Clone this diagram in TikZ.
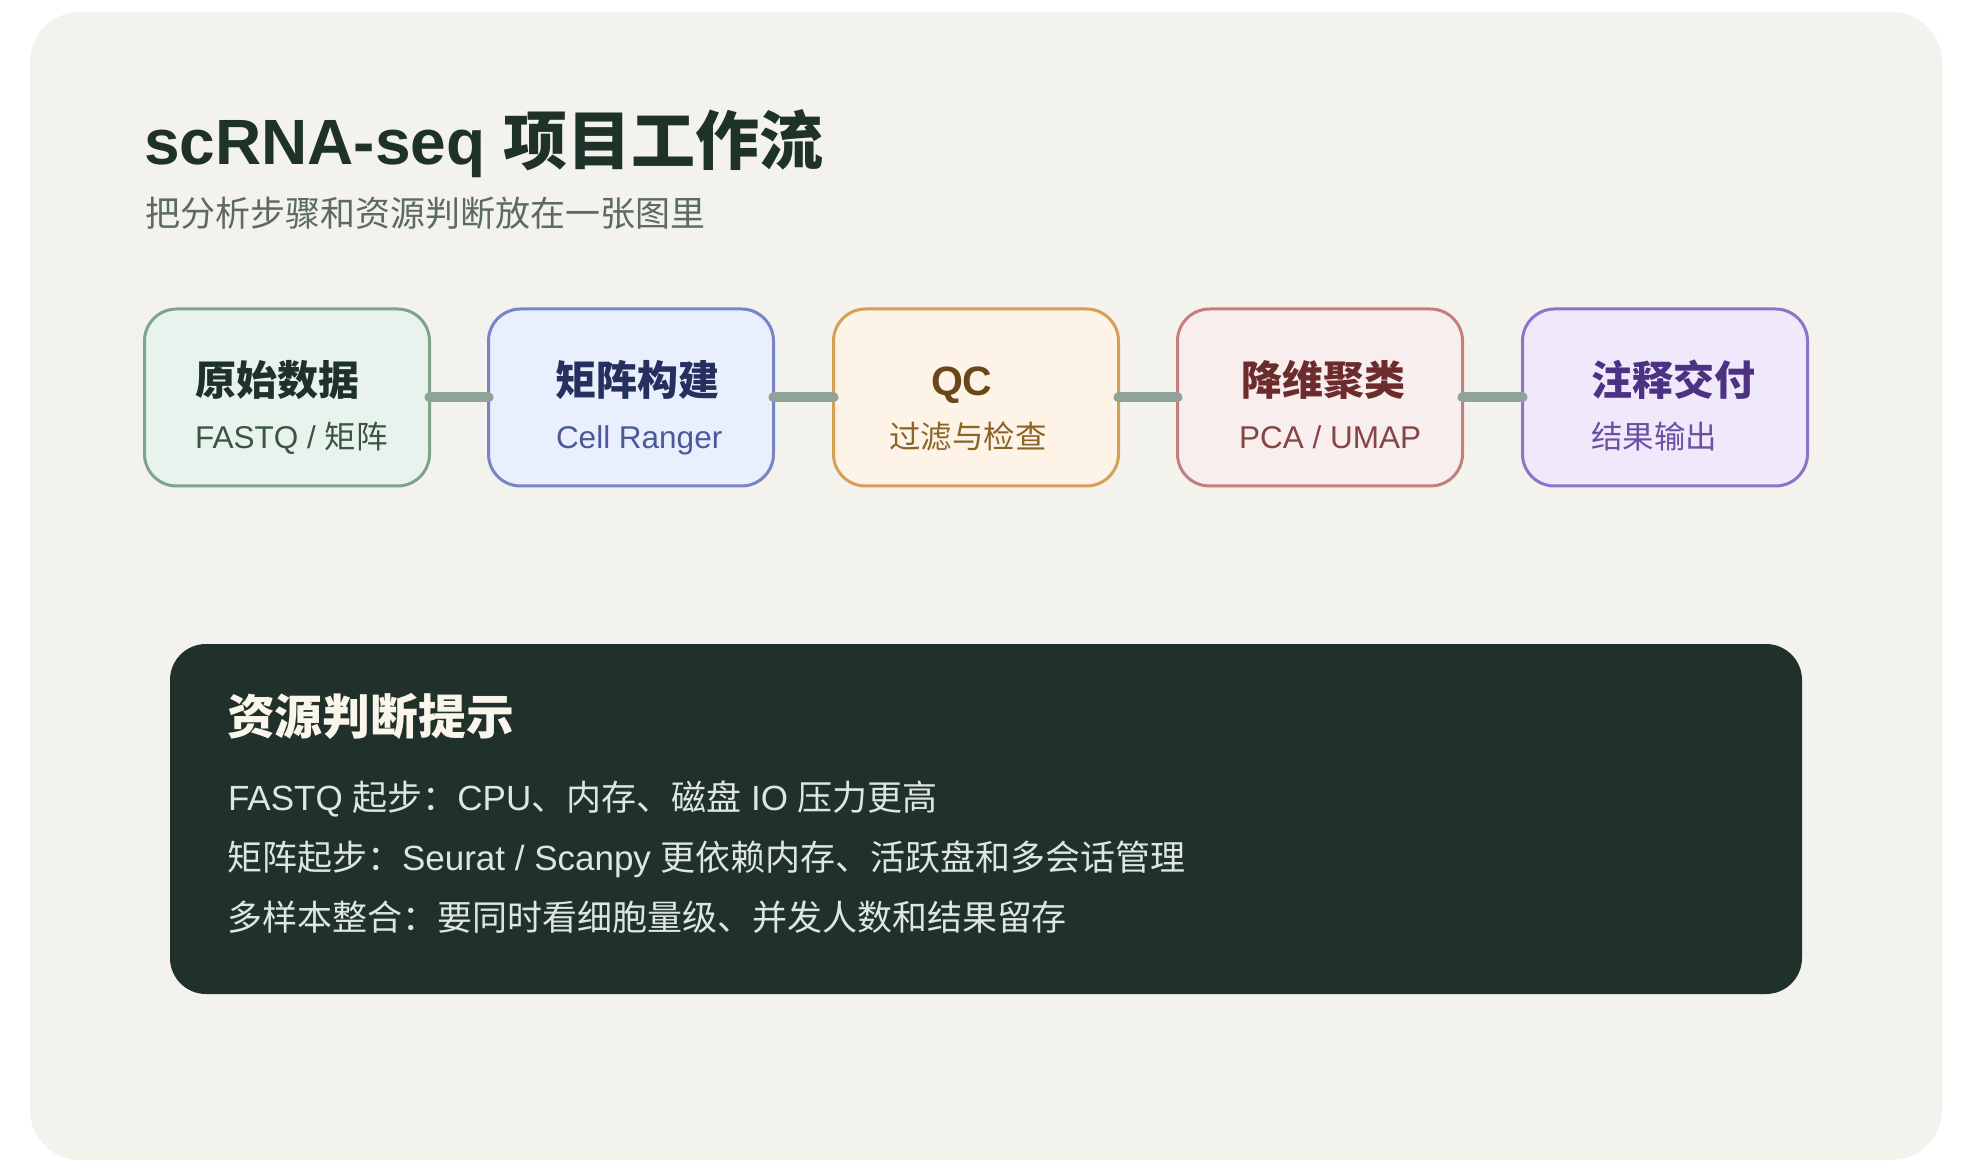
\documentclass[tikz,border=0pt]{standalone}
\usepackage{fontspec}
\setmainfont{Liberation Sans}
\newfontfamily\cjk{Noto Sans CJK SC}
\definecolor{cardbg}{HTML}{F4F2ED}
\definecolor{ink}{HTML}{1F322A}
\definecolor{subc}{HTML}{5B6B62}
\definecolor{panelbg}{HTML}{20312B}
\definecolor{panelhead}{HTML}{FBF6EC}
\definecolor{panelline}{HTML}{DDE6E0}
\definecolor{conncol}{HTML}{8FA398}
\definecolor{bAf}{HTML}{E9F3ED}\definecolor{bAd}{HTML}{7FA38B}\definecolor{bAt}{HTML}{1F3229}\definecolor{bAs}{HTML}{3B5446}
\definecolor{bBf}{HTML}{E9EFFD}\definecolor{bBd}{HTML}{7585C8}\definecolor{bBt}{HTML}{25305F}\definecolor{bBs}{HTML}{4A5A98}
\definecolor{bCf}{HTML}{FDF3E7}\definecolor{bCd}{HTML}{D59F56}\definecolor{bCt}{HTML}{6A4618}\definecolor{bCs}{HTML}{8C6428}
\definecolor{bDf}{HTML}{F8EEEE}\definecolor{bDd}{HTML}{C47E7E}\definecolor{bDt}{HTML}{6C2C2C}\definecolor{bDs}{HTML}{864444}
\definecolor{bEf}{HTML}{F0E8FB}\definecolor{bEd}{HTML}{8D74C8}\definecolor{bEt}{HTML}{4B3282}\definecolor{bEs}{HTML}{6B50A6}
\begin{document}
\begin{tikzpicture}[x=0.5pt,y=-0.5pt,
  every node/.style={inner sep=0pt,outer sep=0pt},
  stagebox/.style={draw,rounded corners=16pt,line width=1.5pt,minimum width=142.5pt,minimum height=88.5pt},
  ttl/.style={anchor=base west,font=\fontsize{20.5}{24}\selectfont\bfseries},
  subt/.style={anchor=base west,font=\fontsize{15.75}{19}\selectfont},
  conn/.style={draw=conncol,line width=5pt,line cap=round},
  pline/.style={anchor=base west,text=panelline,font=\fontsize{17.5}{21}\selectfont}]
\useasboundingbox (0,0) rectangle (1976,1176);
\fill[white] (0,0) rectangle (1976,1176);
\fill[cardbg,rounded corners=25pt] (30,12) rectangle (1942,1160);
% heading
\node[anchor=base west,text=ink,font=\fontsize{32}{38}\selectfont\bfseries] (title) at (144,165) {scRNA-seq {\cjk 项目工作流}};
\node[anchor=base west,text=subc,font=\fontsize{17.5}{21}\selectfont] (subtitle) at (145,227) {\cjk 把分析步骤和资源判断放在一张图里};
% stages
\node[stagebox,draw=bAd,fill=bAf] (b1) at (287,397.5) {};
\node[stagebox,draw=bBd,fill=bBf] (b2) at (631,397.5) {};
\node[stagebox,draw=bCd,fill=bCf] (b3) at (976,397.5) {};
\node[stagebox,draw=bDd,fill=bDf] (b4) at (1320,397.5) {};
\node[stagebox,draw=bEd,fill=bEf] (b5) at (1665,397.5) {};
\draw[conn] (b1.east) -- (b2.west);
\draw[conn] (b2.east) -- (b3.west);
\draw[conn] (b3.east) -- (b4.west);
\draw[conn] (b4.east) -- (b5.west);
\node[ttl,text=bAt] (t1) at (195,396) {\cjk 原始数据};
\node[subt,text=bAs] (s1) at (195,449) {FASTQ / {\cjk 矩阵}};
\node[ttl,text=bBt] (t2) at (555,396) {\cjk 矩阵构建};
\node[subt,text=bBs] (s2) at (556,449) {Cell Ranger};
\node[ttl,text=bCt] (t3) at (931,396) {QC};
\node[subt,text=bCs] (s3) at (889,449) {\cjk 过滤与检查};
\node[ttl,text=bDt] (t4) at (1241,396) {\cjk 降维聚类};
\node[subt,text=bDs] (s4) at (1239,449) {PCA / UMAP};
\node[ttl,text=bEt] (t5) at (1591,396) {\cjk 注释交付};
\node[subt,text=bEs] (s5) at (1591,449) {\cjk 结果输出};
% panel
\node[fill=panelbg,rounded corners=18pt,minimum width=816pt,minimum height=175pt] (panel) at (986,819) {};
\node[anchor=base west,text=panelhead,font=\fontsize{23.9}{28}\selectfont\bfseries] (p0) at (227,734) {\cjk 资源判断提示};
\node[pline] (p1) at (228,810) {FASTQ {\cjk 起步：}CPU{\cjk 、内存、磁盘} IO {\cjk 压力更高}};
\node[pline] (p2) at (227,870) {{\cjk 矩阵起步：}Seurat / Scanpy {\cjk 更依赖内存、活跃盘和多会话管理}};
\node[pline] (p3) at (227,930) {\cjk 多样本整合：要同时看细胞量级、并发人数和结果留存};
\end{tikzpicture}
\end{document}
